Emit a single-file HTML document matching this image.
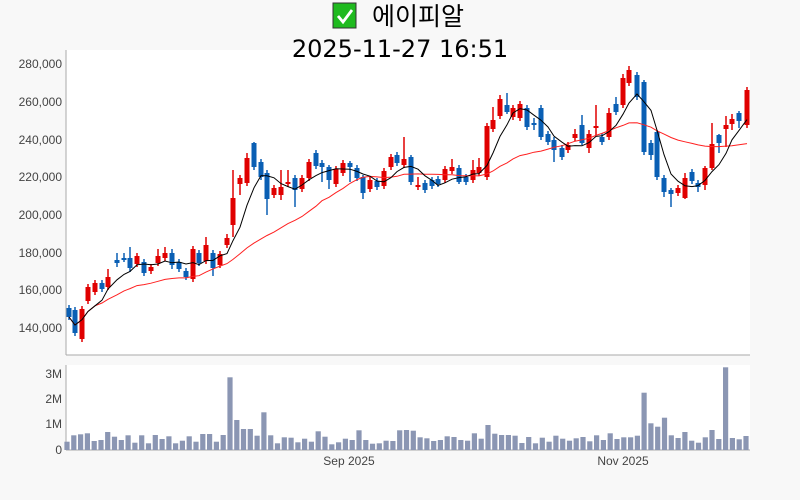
<!DOCTYPE html>
<html><head><meta charset="utf-8"><style>
html,body{margin:0;padding:0;background:#f8f8f8;}
svg{display:block;font-family:"Liberation Sans","Noto Sans CJK KR",sans-serif;}
</style></head><body>
<svg id="s" width="800" height="500" xmlns="http://www.w3.org/2000/svg">
<rect x="0" y="0" width="800" height="500" fill="#f8f8f8"/>
<rect x="66" y="50" width="684" height="305" fill="#fff"/>
<rect x="66" y="365" width="684" height="85" fill="#fff"/>
<rect x="333" y="3" width="23" height="25" fill="#1fba1f" stroke="#333" stroke-width="1"/>
<path d="M338 16 l5 6 l9 -12" stroke="#fff" stroke-width="2.8" fill="none"/>
<text x="372" y="25" font-size="25" font-family="Noto Sans CJK KR,sans-serif">에이피알</text>
<text x="400" y="57" font-size="24" text-anchor="middle" font-family="DejaVu Sans,sans-serif">2025-11-27 16:51</text>
<line x1="66" y1="50" x2="66" y2="355" stroke="#aaa"/>
<line x1="66" y1="355" x2="750" y2="355" stroke="#aaa"/>
<line x1="66" y1="365" x2="66" y2="450" stroke="#aaa"/>
<line x1="66" y1="450" x2="750" y2="450" stroke="#aaa"/>
<g font-size="12" fill="#444" text-anchor="end">
<text x="62" y="68">280,000</text><text x="62" y="106">260,000</text><text x="62" y="144">240,000</text>
<text x="62" y="181">220,000</text><text x="62" y="219">200,000</text><text x="62" y="257">180,000</text>
<text x="62" y="294">160,000</text><text x="62" y="332">140,000</text>
<text x="62" y="378">3M</text><text x="62" y="403">2M</text><text x="62" y="428">1M</text><text x="62" y="454">0</text>
</g>
<g font-size="12" fill="#444" text-anchor="middle"><text x="349" y="465">Sep 2025</text><text x="623" y="465">Nov 2025</text></g>
<g id="g"></g>
</svg>
<script>
var C=[[69,308,317,'b'],[75,310,333,'b'],[82,309,339,'r'],[88,287,301,'r'],[95,283,292,'r'],[102,283,289,'b'],[108,277,287,'r',269],[117,260,263,'b',253,267],[124,258,260,'b',253,262],[130,258,268,'b',247,272],[137,256,264,'r'],[144,262,273,'b'],[151,267,271,'r'],[158,256,263,'r',249],[165,253,258,'r',247],[172,253,265,'b',249,269],[179,262,269,'b'],[186,271,277,'b'],[193,249,279,'r'],[199,253,263,'b'],[206,245,261,'r',237],[213,253,268,'b',250,276],[220,254,265,'r'],[227,238,245,'r',234],[233,198,225,'r',170,237],[240,178,184,'r',175,195],[247,158,183,'r',153],[254,143,167,'b',142,170],[261,162,177,'b'],[267,173,199,'b',170,215],[274,188,195,'r'],[281,187,195,'r',170,200],[288,182,184,'r',170],[295,178,190,'b',175,207],[302,178,189,'r'],[309,162,178,'r'],[316,153,166,'b'],[322,163,167,'b',160,182],[329,167,180,'b',165,189],[336,169,184,'r'],[343,163,173,'r',160],[350,163,167,'b',161,182],[357,168,178,'b'],[363,177,193,'b',175,199],[370,180,189,'r'],[377,181,187,'b'],[384,171,186,'r'],[391,157,167,'r'],[397,155,163,'b'],[404,159,165,'r',137],[411,157,182,'b',155,185],[418,185,187,'r',177,190],[425,183,190,'b',180,193],[432,180,186,'b'],[438,179,184,'b'],[445,169,180,'r'],[452,167,171,'r',159],[459,168,182,'b',165,184],[466,177,182,'b'],[473,170,180,'r',160],[479,167,173,'r',158],[487,126,177,'r'],[493,120,129,'r',107],[500,99,116,'r',95],[507,105,112,'b',93,114],[513,108,117,'r'],[520,104,118,'r'],[527,108,127,'b'],[534,123,125,'b',118,130],[541,108,137,'b'],[548,134,142,'b'],[554,140,150,'b',137,162],[562,148,157,'b'],[568,145,150,'r'],[575,134,138,'r',129],[582,125,143,'b',115,145],[589,134,148,'r',130,153],[596,126,128,'r',105,135],[602,137,142,'b',133,145],[609,113,137,'r',108],[616,104,112,'b',97,115],[623,78,105,'r',74],[629,70,83,'r',66],[637,75,97,'b',72,100],[644,82,152,'b',80,155],[651,143,155,'b',140,160],[657,132,177,'b',130,180],[664,178,192,'b',175,197],[671,190,194,'b',188,207],[678,188,193,'r',185,196],[685,178,198,'r',173,199],[692,172,181,'b',169,184],[698,183,187,'b',180,192],[705,168,185,'r',166,190],[712,144,168,'r',123,170],[719,135,143,'b',134,153],[726,125,129,'r',116,147],[732,119,124,'r',114,130],[739,113,121,'b',111,128],[747,90,125,'r']];
var V4=[245,226,223,220,243,240,216,230,240,226,248,226,250,225,237,229,250,242,229,245,222,222,245,225,52,180,207,207,227,157,226,250,232,233,247,236,245,214,230,253,247,236,240,211,240,251,250,242,243,211];
var V5=[210,212,232,235,243,240,229,231,240,242,220,236,195,221,225,225,227,249,231,250,233,245,227,236,242,235,231,244,226,240,220,237,232,232,227,98,190,200,173,226,234,216,242,248,232,210,237,22,234,238,228];
var g=document.getElementById('g'),h='';
var V=V4.concat(V5),n=V.length;
for(var i=0;i<n;i++){var x=67+i*(746-67)/(n-1),ht=(270-V[i])/3;h+='<rect x="'+(x-2.6).toFixed(1)+'" y="'+(450-ht).toFixed(1)+'" width="5.2" height="'+ht.toFixed(1)+'" fill="#8b96b3"/>';}
var cl=[];
C.forEach(function(c){var col=c[3]=='r'?'#e00000':'#0a5fb4';var wt=c[4]||c[1]-3,wb=c[5]||c[2]+3;
h+='<line x1="'+c[0]+'" x2="'+c[0]+'" y1="'+wt+'" y2="'+wb+'" stroke="'+col+'" stroke-width="1.5"/>';
h+='<rect x="'+(c[0]-2.5)+'" y="'+c[1]+'" width="5" height="'+Math.max(2,c[2]-c[1])+'" fill="'+col+'"/>';
cl.push(c[3]=='r'?c[1]:c[2]);});
function ma(k,col){var p=[];for(var i=0;i<C.length;i++){var s=0,m=0;for(var j=Math.max(0,i-k+1);j<=i;j++){s+=cl[j];m++;}p.push(C[i][0]+','+(s/m).toFixed(1));}
return '<polyline points="'+p.join(' ')+'" fill="none" stroke="'+col+'" stroke-width="1"/>';}
h+=ma(20,'#ff2020')+ma(5,'#000');
g.innerHTML=h;
</script>
</body></html>
